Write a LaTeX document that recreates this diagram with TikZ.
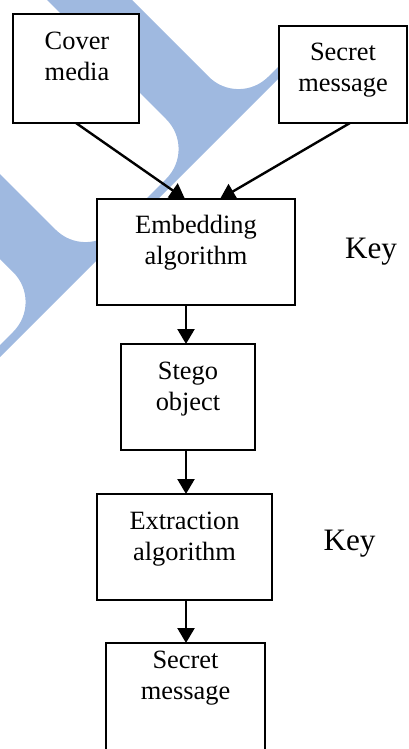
\documentclass[tikz,border=0pt]{standalone}
\usepackage{fontspec}
\setmainfont{Liberation Serif}
\usetikzlibrary{arrows.meta}

\definecolor{wmblue}{RGB}{159,185,224}

\tikzset{
  boxnode/.style={draw=black, fill=white, line width=0.9pt, inner sep=0pt, outer sep=0pt},
  txt/.style={inner sep=0pt, anchor=base, font=\fontsize{13.2}{15.5}\selectfont},
  keytxt/.style={inner sep=0pt, anchor=base, font=\fontsize{15.6}{18}\selectfont},
  arr/.style={line width=1.2pt, -{Triangle[length=7.5pt, width=8.5pt]}}
}

\newcommand{\twolines}[2]{\begin{tabular}[t]{@{}c@{}}#1\\#2\end{tabular}}

\begin{document}
\begin{tikzpicture}[x=0.5pt, y=-0.5pt]
\useasboundingbox (0,0) rectangle (408,749);
\clip (0,0) rectangle (408,749);

% background logo: a thin diagonal spine with two broad teeth and rounded fillets
\fill[wmblue]
  (37,-10) -- (122,-10) -- (208.8,76.8)
  .. controls (225.2,93.2) and (251.8,93.2) .. (268.2,76.8)
  -- (305,40) -- (317,40) -- (-10,367) -- (-10,355) -- (13.3,331.7)
  .. controls (29.7,315.3) and (29.7,288.7) .. (13.3,272.3)
  -- (-10,249) -- (-10,164) -- (55.8,229.8)
  .. controls (72.2,246.2) and (98.8,246.2) .. (115.2,229.8)
  -- (166.3,178.7)
  .. controls (182.7,162.3) and (182.7,135.7) .. (166.3,119.3)
  -- cycle;

% boxes
\node[boxnode, minimum width=63pt, minimum height=54.5pt] (cover) at (76,68.5) {};
\node[boxnode, minimum width=64pt, minimum height=48.5pt] (secretA) at (343,74.5) {};
\node[boxnode, minimum width=99pt, minimum height=53pt] (embed) at (196,252) {};
\node[boxnode, minimum width=67pt, minimum height=53pt] (stego) at (188,397) {};
\node[boxnode, minimum width=87.5pt, minimum height=53pt] (extract) at (184.5,547) {};
\node[boxnode, minimum width=79.5pt, minimum height=63.5pt] (secretB) at (185.5,706.5) {};

% box labels
\node[txt] (tcover) at (77,50) {\twolines{Cover}{media}};
\node[txt] (tsecretA) at (343,61) {\twolines{Secret}{message}};
\node[txt] (tembed) at (196,233) {\twolines{Embedding}{algorithm}};
\node[txt] (tstego) at (188,379) {\twolines{Stego}{object}};
\node[txt] (textract) at (184.5,529) {\twolines{Extraction}{algorithm}};
\node[txt] (tsecretB) at (185.5,668) {\twolines{Secret}{message}};

% keys
\node[keytxt] (key1) at (371,258) {Key};
\node[keytxt] (key2) at (349.5,550) {Key};

% connectors
\draw[arr] (cover.south) -- ([xshift=-5.5pt]embed.north);
\draw[arr] ([xshift=3.5pt]secretA.south) -- ([xshift=12pt]embed.north);
\draw[arr] ([xshift=-5pt]embed.south) -- ([xshift=-1pt]stego.north);
\draw[arr] ([xshift=-1pt]stego.south) -- ([xshift=0.75pt]extract.north);
\draw[arr] ([xshift=0.75pt]extract.south) -- ([xshift=0.25pt]secretB.north);
\end{tikzpicture}
\end{document}
